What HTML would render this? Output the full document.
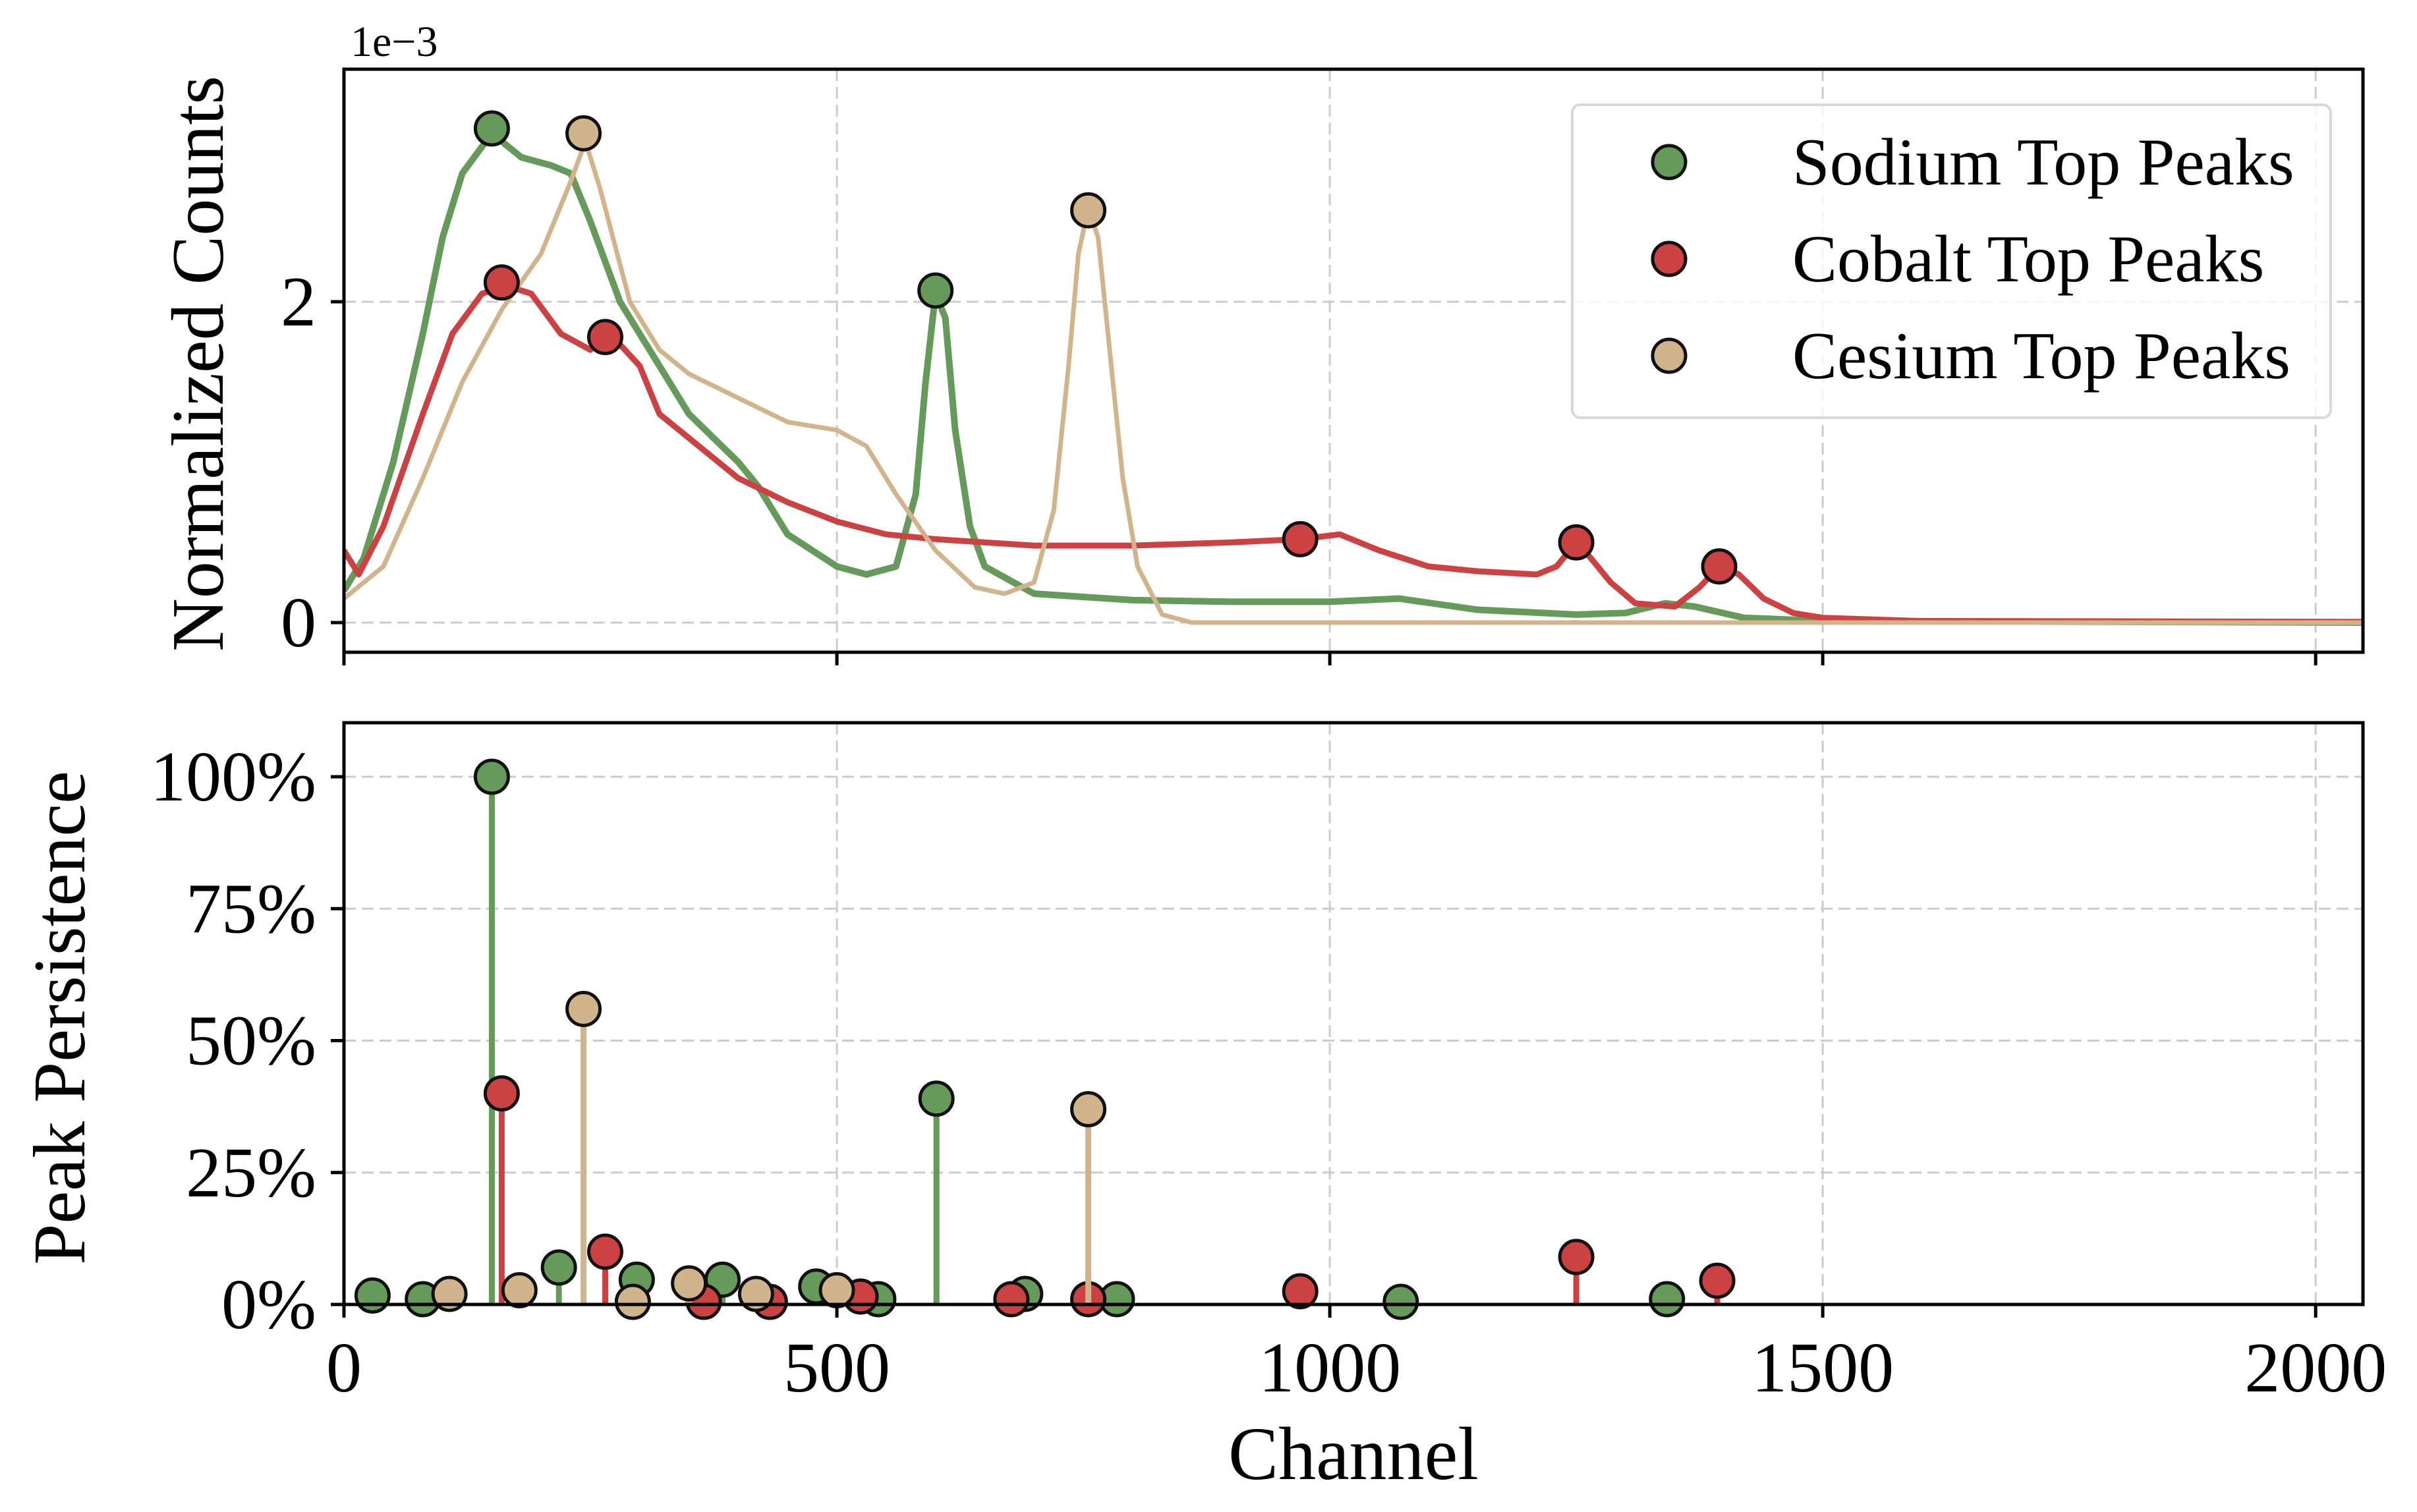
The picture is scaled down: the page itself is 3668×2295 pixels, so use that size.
<!DOCTYPE html>
<html><head><meta charset="utf-8"><style>
html,body{margin:0;padding:0;background:#fff;}
svg{display:block;font-family:"Liberation Serif","DejaVu Serif",serif;}
</style></head><body>
<svg id="chart" width="3668" height="2295" viewBox="0 0 3668 2295" xmlns="http://www.w3.org/2000/svg"></svg>
<script>
// ---- data ----
const sodiumCh = [0,20,50,80,100,120,150,180,210,230,250,280,300,350,400,420,450,500,530,560,580,590,600,610,620,635,650,700,800,900,1000,1070,1150,1250,1300,1340,1370,1420,1500,2048];
const sodiumVal = [0.2,0.4,1.0,1.8,2.4,2.8,3.05,2.9,2.85,2.8,2.5,2.0,1.8,1.3,1.0,0.85,0.55,0.35,0.3,0.35,0.8,1.5,2.05,1.9,1.2,0.6,0.35,0.18,0.14,0.13,0.13,0.15,0.08,0.05,0.06,0.12,0.1,0.03,0.01,0.0];
const cobaltCh = [0,15,40,80,110,140,165,190,220,250,270,300,320,350,400,450,500,550,600,700,800,900,970,1010,1050,1100,1150,1210,1230,1250,1265,1285,1310,1350,1375,1395,1415,1440,1470,1500,1600,2048];
const cobaltVal = [0.45,0.3,0.6,1.3,1.8,2.05,2.1,2.05,1.8,1.7,1.8,1.6,1.3,1.15,0.9,0.75,0.63,0.55,0.52,0.48,0.48,0.5,0.52,0.55,0.45,0.35,0.32,0.3,0.35,0.5,0.4,0.25,0.12,0.1,0.22,0.35,0.3,0.15,0.06,0.03,0.01,0.005];
const cesiumCh = [0,40,80,120,160,200,230,245,260,290,320,350,400,450,500,530,560,600,640,670,700,720,735,745,755,765,775,790,805,830,860,2048];
const cesiumVal = [0.15,0.35,0.9,1.5,1.95,2.3,2.75,3.0,2.7,2.0,1.7,1.55,1.4,1.25,1.2,1.1,0.8,0.45,0.22,0.18,0.25,0.7,1.6,2.3,2.58,2.4,1.8,0.9,0.35,0.05,0.0,0.0];
const sodiumPeakCh = [150,600];
const sodiumPeakVal = [3.08,2.07];
const cobaltPeakCh = [160,265,970,1250,1395];
const cobaltPeakVal = [2.12,1.78,0.52,0.5,0.35];
const cesiumPeakCh = [243,755];
const cesiumPeakVal = [3.05,2.57];
const sodiumStemCh = [29,80,150,218,297,384,479,542,601,691,784,1072,1342];
const sodiumStemPct = [1.7,1,100,7,4.7,4.7,3.4,1,39,2,1,0.5,1];
const cobaltStemCh = [160,265,365,432,524,677,755,970,1250,1393];
const cobaltStemPct = [40,10,0.5,0.5,1.5,1,1,2.5,9,4.5];
const cesiumStemCh = [107,178,243,293,350,418,500,755];
const cesiumStemPct = [2,2.7,56,0.5,4,2,2.7,37];
const xTicks = [0,500,1000,1500,2000];
const xTickLabels = ['0','500','1000','1500','2000'];
const topYTicks = [0,2];
const topYTickLabels = ['0','2'];
const botYTicks = [0,25,50,75,100];
const botYTickLabels = ['0%','25%','50%','75%','100%'];

// ---- layout ----
const NS='http://www.w3.org/2000/svg';
const svg=document.getElementById('chart');
const L=522,R=3586, T1=105,B1=990, T2=1097,B2=1980;
const xMin=0,xMax=2048;
const xs=c=>L+(c-xMin)/(xMax-xMin)*(R-L);
const y1=v=>945-v*243.5;
const y2=p=>1980-p*8.01;
const GREEN='#659a5a',RED='#cc4242',TAN='#d2b48c';
function mk(tag,attrs,parent){const e=document.createElementNS(NS,tag);for(const k in attrs)e.setAttribute(k,attrs[k]);(parent||svg).appendChild(e);return e;}

const defs=mk('defs',{});
const cp1=mk('clipPath',{id:'c1'},defs);mk('rect',{x:L,y:T1,width:R-L,height:B1-T1},cp1);
const cp2=mk('clipPath',{id:'c2'},defs);mk('rect',{x:L,y:T2,width:R-L,height:B2-T2+30},cp2);

function grid(T,B,yt,yf){
  const g=mk('g',{});
  
  
  xTicks.forEach(t=>{mk('line',{x1:xs(t),x2:xs(t),y1:T,y2:B,stroke:'#cccccc','stroke-width':3,'stroke-dasharray':'18,9'},g);});
  yt.forEach(t=>{mk('line',{x1:L,x2:R,y1:yf(t),y2:yf(t),stroke:'#cccccc','stroke-width':3,'stroke-dasharray':'18,9'},g);});
}
grid(T1,B1,topYTicks,y1);
grid(T2,B2,botYTicks,y2);

function line(ch,val,color,name,w){
  const p=mk('polyline',{points:ch.map((c,i)=>xs(c)+','+y1(val[i])).join(' '),fill:'none',stroke:color,'stroke-width':w,'stroke-linejoin':'round','clip-path':'url(#c1)'});
  
  
}
line(sodiumCh,sodiumVal,GREEN,'sodium-spectrum',10);
line(cobaltCh,cobaltVal,RED,'cobalt-spectrum',9);
line(cesiumCh,cesiumVal,TAN,'cesium-spectrum',7);

function dot(x,y,color,name,parent){
  const c=mk('circle',{cx:x,cy:y,r:25,fill:color,stroke:'#111','stroke-width':5},parent);
  
  
}
sodiumPeakCh.forEach((c,i)=>dot(xs(c),y1(sodiumPeakVal[i]),GREEN,'sodium-peak-marker'));
cobaltPeakCh.forEach((c,i)=>dot(xs(c),y1(cobaltPeakVal[i]),RED,'cobalt-peak-marker'));
cesiumPeakCh.forEach((c,i)=>dot(xs(c),y1(cesiumPeakVal[i]),TAN,'cesium-peak-marker'));

function stems(ch,pct,color,name){
  const g=mk('g',{'clip-path':'url(#c2)'});
  
  
  ch.forEach((c,i)=>{
    const s=mk('line',{x1:xs(c),x2:xs(c),y1:y2(0),y2:y2(pct[i]),stroke:color,'stroke-width':9},g);
    
    
  });
  ch.forEach((c,i)=>dot(xs(c),y2(pct[i]),color,name+'-stem-marker',g));
}
stems(sodiumStemCh,sodiumStemPct,GREEN,'sodium');
stems(cobaltStemCh,cobaltStemPct,RED,'cobalt');
stems(cesiumStemCh,cesiumStemPct,TAN,'cesium');

function frame(T,B,yt,yf,labels,name){
  const f=mk('rect',{x:L,y:T,width:R-L,height:B-T,fill:'none',stroke:'#000','stroke-width':5});
  
  
  xTicks.forEach(t=>mk('line',{x1:xs(t),x2:xs(t),y1:B,y2:B+20,stroke:'#000','stroke-width':5}));
  yt.forEach((t,i)=>{
    mk('line',{x1:L-20,x2:L,y1:yf(t),y2:yf(t),stroke:'#000','stroke-width':5});
    const tx=mk('text',{x:480,y:yf(t)+36,'font-size':108,'text-anchor':'end',fill:'#000'});
    tx.textContent=labels[i];
    
    
  });
}
frame(T1,B1,topYTicks,y1,topYTickLabels,'top');
frame(T2,B2,botYTicks,y2,botYTickLabels,'bottom');
xTicks.forEach((t,i)=>{
  const tx=mk('text',{x:xs(t),y:2112,'font-size':108,'text-anchor':'middle',fill:'#000'});
  tx.textContent=xTickLabels[i];
  
  
});
</script>
<svg style="position:absolute;left:0;top:0" width="3668" height="2295" xmlns="http://www.w3.org/2000/svg">
  <text x="2054" y="2245" font-size="114" text-anchor="middle">Channel</text>
  <text transform="translate(338,552) rotate(-90)" font-size="112" text-anchor="middle">Normalized Counts</text>
  <text transform="translate(128,1545) rotate(-90)" font-size="112" text-anchor="middle">Peak Persistence</text>
  <text x="532" y="85" font-size="66">1e−3</text>
  <g>
    <rect x="2386" y="159" width="1151" height="475" rx="12" fill="#fff" fill-opacity="0.8" stroke="#d8d8d8" stroke-width="4"/>
    <g>
      <circle cx="2533" cy="246" r="25" fill="#659a5a" stroke="#111" stroke-width="5"/>
      <text x="2720" y="280" font-size="102">Sodium Top Peaks</text>
    </g>
    <g>
      <circle cx="2533" cy="393" r="25" fill="#cc4242" stroke="#111" stroke-width="5"/>
      <text x="2720" y="427" font-size="102">Cobalt Top Peaks</text>
    </g>
    <g>
      <circle cx="2533" cy="540" r="25" fill="#d2b48c" stroke="#111" stroke-width="5"/>
      <text x="2720" y="574" font-size="102">Cesium Top Peaks</text>
    </g>
  </g>
</svg>
</body></html>
